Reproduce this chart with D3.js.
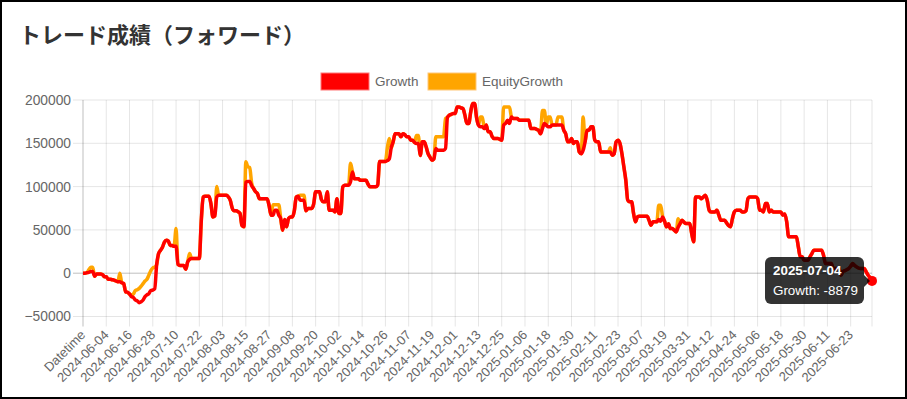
<!DOCTYPE html>
<html>
<head>
<meta charset="utf-8">
<script src="https://cdn.jsdelivr.net/npm/d3@7"></script>
<style>
  body { margin: 0; background: #fff; }
  text { font-family: "Liberation Sans", Arial, sans-serif; }
</style>
</head>
<body>
<div id="chart-container"></div>
<script>
// Daily values, first category is the "Datetime" header row.
var growth = [
  0, 0, 500, 1000, 2000, 2000, -3500, -1000, -1000, -1000,
  -1500, -4000, -4000, -7000, -7000, -7500, -8000, -9000, -10000, -10000,
  -11000, -12000, -21500, -22000, -24000, -27000, -28000, -31000, -32000, -34000,
  -33000, -31000, -27000, -25000, -23500, -20000, -19500, -18000, 10000, 22700,
  26500, 30000, 36000, 38000, 37000, 32000, 32000, 31000, 31000, 10000,
  9000, 9000, 9000, 4500, 13000, 16000, 17000, 17000, 17000, 17000,
  17000, 60000, 88000, 89000, 89000, 89000, 80000, 65000, 66000, 88000,
  90000, 90000, 90000, 90000, 90000, 88000, 84000, 75000, 72000, 72000,
  71000, 69000, 55000, 53500, 105000, 106000, 106000, 101000, 97800, 94000,
  92000, 86000, 86000, 86000, 86000, 86000, 78000, 67000, 67000, 72700,
  72700, 67000, 63000, 49600, 62000, 53500, 63000, 65000, 65000, 72000,
  88000, 89000, 84300, 84300, 84300, 72000, 74700, 74700, 74700, 80000,
  94000, 94000, 94000, 85000, 82400, 82400, 94000, 72700, 72700, 72700,
  70800, 86000, 69000, 69000, 99700, 101600, 101600, 101600, 105500, 117000,
  109000, 109000, 109000, 107400, 107400, 107400, 107400, 103000, 99700, 99700,
  99700, 99700, 101600, 129000, 129000, 129000, 129000, 130000, 132000, 145000,
  151700, 161000, 161000, 161000, 157500, 161000, 160000, 157500, 157500, 153600,
  153600, 151000, 149700, 149700, 136000, 151700, 151700, 146000, 138000, 134000,
  130500, 132000, 144000, 142000, 142000, 142000, 142000, 144000, 180000, 182500,
  183500, 184400, 184400, 192000, 192000, 191000, 190000, 182500, 172900, 172900,
  186300, 196000, 196000, 180000, 171000, 169000, 169000, 167000, 171000, 163200,
  163200, 158000, 155500, 155500, 155500, 154500, 153600, 171000, 173000, 176700,
  173000, 180500, 178600, 178600, 178600, 176700, 176700, 176700, 176700, 176700,
  176700, 167000, 167000, 167000, 166000, 165000, 161000, 167000, 173000, 171000,
  169000, 169000, 171000, 171000, 171000, 171000, 171000, 171000, 165000, 161000,
  151700, 151700, 155500, 149800, 151700, 151700, 140000, 138000, 142000, 151700,
  165000, 165000, 169000, 169000, 153600, 151700, 151700, 140000, 140000, 140000,
  140000, 140000, 140000, 136300, 138000, 151700, 153600, 149800, 138000, 122800,
  107400, 84300, 82400, 82400, 69000, 59300, 65000, 65800, 65800, 65800,
  65800, 65800, 61000, 55400, 59300, 59300, 59300, 62000, 60000, 65000,
  60000, 53500, 57000, 51600, 51600, 49700, 47700, 53000, 57300, 61000,
  59000, 57300, 57300, 57300, 45800, 36200, 88000, 88000, 88000, 86000,
  88000, 90000, 84300, 72700, 70800, 70800, 70800, 72700, 67000, 61200,
  61200, 61200, 58000, 55000, 53500, 63000, 70800, 72700, 72700, 72700,
  70800, 70800, 72000, 86200, 88000, 88000, 88000, 88000, 86200, 72700,
  72700, 70800, 80400, 80400, 70800, 72700, 70800, 70800, 70800, 70800,
  70800, 67000, 68500, 59300, 42000, 42000, 42000, 42000, 42000, 30400,
  18900, 18900, 15000, 15000, 15000, 18900, 22700, 26600, 26600, 26600,
  26600, 26600, 20800, 11200, 11200, 11200, 11200, 5400, 5400, 5400,
  5400, -2300, 2000, 3000, 4000, 5400, 8000, 11200, 9000, 7300,
  6000, 5400, 5400, 5400, 1500, -2300, -5000, -8879
];

var equityGrowth = [
  0, 0, 500, 4000, 7000, 7000, -3500, -1000, -1000, -1000,
  -1500, -4000, -4000, -7000, -7000, -7500, -8000, -9000, -10000, 0,
  -11000, -12000, -21500, -22000, -24000, -25000, -24000, -20000, -19000, -17500,
  -15000, -12000, -9000, -7000, -2000, 3000, 6000, 7000, 10000, 22700,
  26500, 30000, 36000, 38000, 37000, 32000, 32000, 31000, 51500, 10000,
  9000, 9000, 9000, 4500, 13000, 22700, 17000, 17000, 17000, 17000,
  17000, 60000, 88000, 89000, 89000, 89000, 80000, 65000, 66000, 100000,
  90000, 90000, 90000, 90000, 90000, 88000, 84000, 75000, 72000, 72000,
  71000, 69000, 55000, 53500, 128600, 123000, 122000, 104000, 97800, 94000,
  92000, 86000, 86000, 86000, 86000, 86000, 78000, 67000, 79000, 79000,
  79000, 79000, 63000, 49600, 62000, 53500, 63000, 65000, 65000, 72000,
  88000, 89000, 90000, 90000, 90000, 72000, 74700, 74700, 74700, 80000,
  94000, 94000, 94000, 85000, 82400, 82400, 94000, 72700, 72700, 72700,
  70800, 86000, 69000, 69000, 99700, 101600, 101600, 101600, 127000, 117000,
  109000, 109000, 109000, 107400, 107400, 107400, 107400, 103000, 99700, 99700,
  99700, 99700, 101600, 129000, 129000, 129000, 129000, 145000, 155500, 145000,
  151700, 161000, 161000, 161000, 157500, 161000, 160000, 157500, 157500, 153600,
  153600, 151000, 159000, 159000, 136000, 151700, 151700, 146000, 138000, 134000,
  130500, 132000, 157500, 157500, 157500, 157500, 157500, 178600, 180000, 182500,
  183500, 184400, 184400, 192000, 192000, 191000, 190000, 182500, 172900, 172900,
  186300, 196000, 196000, 180000, 171000, 180500, 180500, 167000, 171000, 163200,
  163200, 158000, 155500, 155500, 155500, 154500, 153600, 192000, 192000, 192000,
  192000, 180500, 178600, 178600, 178600, 176700, 176700, 176700, 176700, 176700,
  176700, 167000, 167000, 167000, 166000, 165000, 161000, 188000, 188000, 171000,
  180500, 180500, 171000, 171000, 171000, 180500, 180500, 180500, 165000, 161000,
  151700, 151700, 155500, 149800, 151700, 151700, 140000, 138000, 180500, 151700,
  165000, 165000, 169000, 169000, 153600, 151700, 151700, 140000, 140000, 140000,
  140000, 140000, 145000, 136300, 138000, 151700, 153600, 149800, 138000, 122800,
  107400, 84300, 82400, 82400, 69000, 59300, 65000, 65800, 65800, 65800,
  65800, 65800, 61000, 55400, 59300, 59300, 59300, 78500, 78500, 65000,
  60000, 53500, 57000, 51600, 51600, 49700, 47700, 63000, 57300, 61000,
  59000, 57300, 57300, 57300, 45800, 36200, 88000, 88000, 88000, 86000,
  88000, 90000, 84300, 72700, 70800, 70800, 70800, 72700, 67000, 61200,
  61200, 61200, 58000, 55000, 53500, 63000, 70800, 72700, 72700, 72700,
  70800, 70800, 72000, 86200, 88000, 88000, 88000, 88000, 86200, 72700,
  72700, 70800, 80400, 80400, 70800, 72700, 70800, 70800, 70800, 70800,
  70800, 67000, 68500, 59300, 42000, 42000, 42000, 42000, 42000, 30400,
  18900, 18900, 15000, 15000, 15000, 18900, 22700, 26600, 26600, 26600,
  26600, 26600, 20800, 11200, 11200, 11200, 11200, 5400, 5400, 5400,
  5400, -2300, 2000, 3000, 4000, 5400, 8000, 11200, 9000, 7300,
  6000, 5400, 5400, 5400, 1500, -2300, -5000, -8879
];

var firstDay = "2024-05-24";
var lastDay = "2025-07-04";
var yTicks = [-50000, 0, 50000, 100000, 150000, 200000];
var seriesNames = ["Growth", "EquityGrowth"];
var seriesColors = ["#ff0000", "#ffa500"];

var parseDay = d3.utcParse("%Y-%m-%d");
var fmtDay = d3.utcFormat("%Y-%m-%d");
var labels = ["Datetime"].concat(
  d3.utcDay.range(parseDay(firstDay), d3.utcDay.offset(parseDay(lastDay), 1)).map(fmtDay)
);
var tickLabels = labels.filter(function(d, i) { return i % 12 === 0; });

var w = 907;
var h = 399;
var plotLeft = 83, plotRight = 872, plotTop = 100, plotBottom = 316.5;

var svg = d3.select("#chart-container").append("svg")
  .attr("width", w)
  .attr("height", h);

svg.append("rect")
  .attr("x", 1).attr("y", 1)
  .attr("width", w - 2).attr("height", h - 2)
  .attr("fill", "#fff")
  .attr("stroke", "#000")
  .attr("stroke-width", 2);

svg.append("text")
  .attr("x", 19)
  .attr("y", 43)
  .style("font-family", "'Noto Sans CJK JP', sans-serif")
  .style("font-weight", "bold")
  .style("font-size", "22px")
  .attr("fill", "#333")
  .text("トレード成績（フォワード）");

var x = d3.scalePoint().domain(labels).range([plotLeft, plotRight]);
var y = d3.scaleLinear().domain([-50000, 200000]).range([plotBottom, plotTop]);

// Grid
var grid = svg.append("g");
grid.selectAll("line.h")
  .data(yTicks)
  .enter().append("line")
  .attr("x1", plotLeft - 10).attr("x2", plotRight)
  .attr("y1", function(d) { return y(d); })
  .attr("y2", function(d) { return y(d); })
  .attr("stroke", function(d) { return d === 0 ? "rgba(0,0,0,0.25)" : "rgba(0,0,0,0.1)"; })
  .attr("stroke-width", 1);

grid.selectAll("line.v")
  .data(tickLabels)
  .enter().append("line")
  .attr("x1", function(d) { return x(d); })
  .attr("x2", function(d) { return x(d); })
  .attr("y1", plotTop).attr("y2", plotBottom + 10)
  .attr("stroke", function(d, i) { return i === 0 ? "rgba(0,0,0,0.25)" : "rgba(0,0,0,0.1)"; })
  .attr("stroke-width", 1);

grid.append("line")
  .attr("x1", plotRight).attr("x2", plotRight)
  .attr("y1", plotTop).attr("y2", plotBottom + 10)
  .attr("stroke", "rgba(0,0,0,0.1)");

// Axes (text only, the grid above draws the lines)
var yAxis = svg.append("g")
  .attr("transform", "translate(" + (plotLeft - 10) + ",0)")
  .call(d3.axisLeft(y).tickValues(yTicks).tickFormat(d3.format("d")).tickSize(0).tickPadding(2));
yAxis.select(".domain").remove();
yAxis.selectAll("text")
  .style("font-size", "13.8px")
  .attr("fill", "#666");

var xAxis = svg.append("g")
  .attr("transform", "translate(0," + (plotBottom + 10) + ")")
  .call(d3.axisBottom(x).tickValues(tickLabels).tickSize(0).tickPadding(0));
xAxis.select(".domain").remove();
xAxis.selectAll("text")
  .style("font-size", "13px")
  .attr("fill", "#666")
  .attr("text-anchor", "end")
  .attr("dy", "0.35em")
  .attr("y", 0)
  .attr("transform", "translate(-0.5,6) rotate(-45)");

// Lines, EquityGrowth underneath
var line = d3.line()
  .x(function(d, i) { return x(labels[i]); })
  .y(function(d) { return y(d); })
  .curve(d3.curveMonotoneX);

svg.append("path")
  .datum(equityGrowth)
  .attr("d", line)
  .attr("fill", "none")
  .attr("stroke", seriesColors[1])
  .attr("stroke-width", 3.5);

svg.append("path")
  .datum(growth)
  .attr("d", line)
  .attr("fill", "none")
  .attr("stroke", seriesColors[0])
  .attr("stroke-width", 3.5);

// Legend
var legendX = [321, 428];
var legend = svg.append("g").selectAll("g")
  .data(seriesNames)
  .enter().append("g")
  .attr("transform", function(d, i) { return "translate(" + legendX[i] + ",73)"; });
legend.append("rect")
  .attr("width", 48).attr("height", 17)
  .attr("fill", function(d, i) { return seriesColors[i]; })
  .attr("stroke", function(d, i) { return i === 0 ? "rgba(255,120,120,1)" : "rgba(255,200,120,1)"; })
  .attr("stroke-width", 1);
legend.append("text")
  .attr("x", 54).attr("y", 8.5)
  .attr("dy", "0.35em")
  .style("font-size", "13.5px")
  .attr("fill", "#666")
  .text(function(d) { return d; });

// Hover point and tooltip on the last day
var lastIdx = labels.length - 1;
var px = x(labels[lastIdx]);
var py = y(growth[lastIdx]);

svg.append("circle")
  .attr("cx", px).attr("cy", py).attr("r", 5)
  .attr("fill", seriesColors[0]);

var tip = svg.append("g");
var tipRight = px - 8;
var tipW = 99, tipH = 47;
tip.append("rect")
  .attr("x", tipRight - tipW).attr("y", py - 24)
  .attr("width", tipW).attr("height", tipH)
  .attr("rx", 6)
  .attr("fill", "rgba(0,0,0,0.8)");
tip.append("path")
  .attr("d", "M" + tipRight + "," + (py - 6) + "L" + (tipRight + 6) + "," + py + "L" + tipRight + "," + (py + 6) + "Z")
  .attr("fill", "rgba(0,0,0,0.8)");
tip.append("text")
  .attr("x", tipRight - tipW + 8).attr("y", py - 6)
  .style("font-size", "13.4px")
  .style("font-weight", "bold")
  .attr("fill", "#fff")
  .text(labels[lastIdx]);
tip.append("text")
  .attr("x", tipRight - tipW + 8).attr("y", py + 14)
  .style("font-size", "13.4px")
  .attr("fill", "#fff")
  .text(seriesNames[0] + ": " + growth[lastIdx]);
</script>
</body>
</html>
